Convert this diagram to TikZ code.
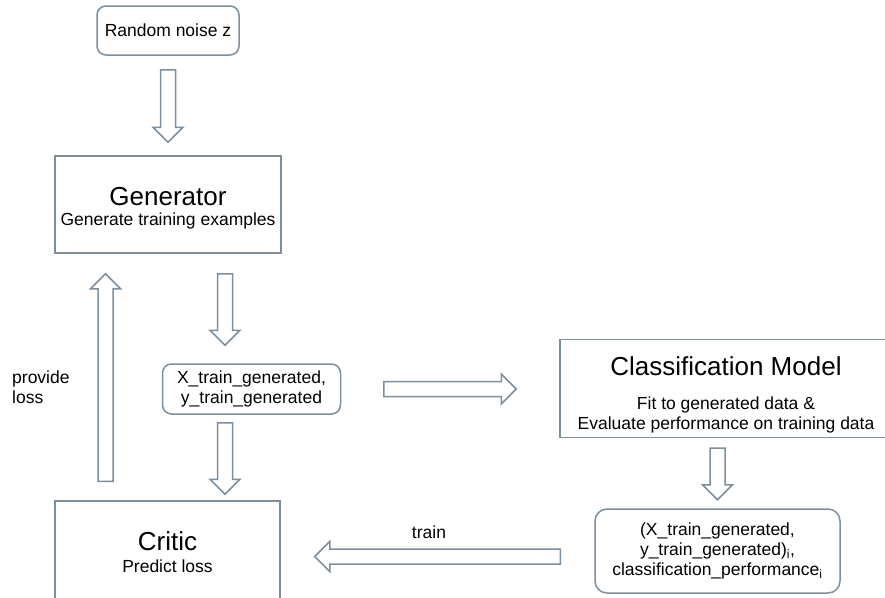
\documentclass[tikz,border=0pt]{standalone}
\usepackage{fontspec}
\setmainfont{Liberation Sans}
\usetikzlibrary{positioning, calc}

\definecolor{boxline}{RGB}{125,142,156}
\newcommand{\boxtitle}[1]{{\fontsize{26}{20}\selectfont #1}}

\begin{document}
\begin{tikzpicture}[
  x=1pt, y=-1pt,
  font=\fontsize{17.5}{20}\selectfont,
  box/.style={draw=boxline, line width=1.5pt, inner sep=0pt, align=center},
  roundbox/.style={box, rounded corners=9pt},
  lbl/.style={inner sep=0pt},
  % hollow block arrow between two points
  hollow/.style={draw=boxline, line width=1.5pt, line join=miter,
    to path={
      ($(\tikztostart)!7.5pt!90:(\tikztotarget)$)
      -- ($(\tikztotarget)!15pt!(\tikztostart)!7.5pt!90:(\tikztotarget)$)
      -- ($(\tikztotarget)!15pt!(\tikztostart)!15pt!90:(\tikztotarget)$)
      -- (\tikztotarget)
      -- ($(\tikztotarget)!15pt!(\tikztostart)!15pt!-90:(\tikztotarget)$)
      -- ($(\tikztotarget)!15pt!(\tikztostart)!7.5pt!-90:(\tikztotarget)$)
      -- ($(\tikztostart)!7.5pt!-90:(\tikztotarget)$)
      -- cycle}},
]
\useasboundingbox (0,0) rectangle (885,597);

% --- boxes ---
\node[roundbox, minimum width=142pt, minimum height=49pt] (noise) at (168,30.5)
  {Random noise z};
\node[box, minimum width=226pt, minimum height=97pt] (gen) at (168,204.5)
  {\boxtitle{\rule{0pt}{26pt}Generator}\\ Generate training examples};
\node[roundbox, minimum width=178pt, minimum height=50pt] (xgen) at (251.5,389)
  {X\_train\_generated,\\ y\_train\_generated};
\node[box, minimum width=332pt, minimum height=98pt] (cls) at (726,388.3)
  {\boxtitle{\rule{0pt}{32pt}Classification Model}\\[14pt] Fit to generated data \&\\
   Evaluate performance on training data};
\node[roundbox, rounded corners=12pt, minimum width=245pt, minimum height=84pt] (res)
  at (717.5,551)
  {(X\_train\_generated,\\ y\_train\_generated)\textsubscript{i},\\
   classification\_performance\textsubscript{i}};
\node[box, minimum width=225pt, minimum height=103pt] (critic) at (167.5,552.5)
  {\boxtitle{Critic}\\[2pt] Predict loss};

% --- labels ---
\node[lbl, anchor=west, align=left] (losslbl) at (12,387) {provide\\loss};
\node[lbl, anchor=base] (trainlbl) at (429,538.6) {train};

% --- block arrows ---
\draw[hollow] ($(noise.south)+(0,14)$) to ($(gen.north)+(0,-13)$);
\draw[hollow] ($(gen.south)+(57,20)$) to ($(xgen.north)+(-26.5,-18)$);
\draw[hollow] ($(xgen.south)+(-26.5,8)$) to ($(critic.north)+(57.5,-6)$);
\draw[hollow] ($(critic.north)+(-62,-19)$) to ($(gen.south)+(-62.5,20)$);
\draw[hollow] ($(xgen.east)+(42.5,0)$) to ($(xgen.east -| cls.west)+(-43,0)$);
\draw[hollow] ($(cls.south)+(-8.5,10)$) to ($(res.north)+(0,-8.5)$);
\draw[hollow] ($(res.west)+(-34,5.5)$) to ($(critic.east)+(34,4)$);

\end{tikzpicture}
\end{document}
